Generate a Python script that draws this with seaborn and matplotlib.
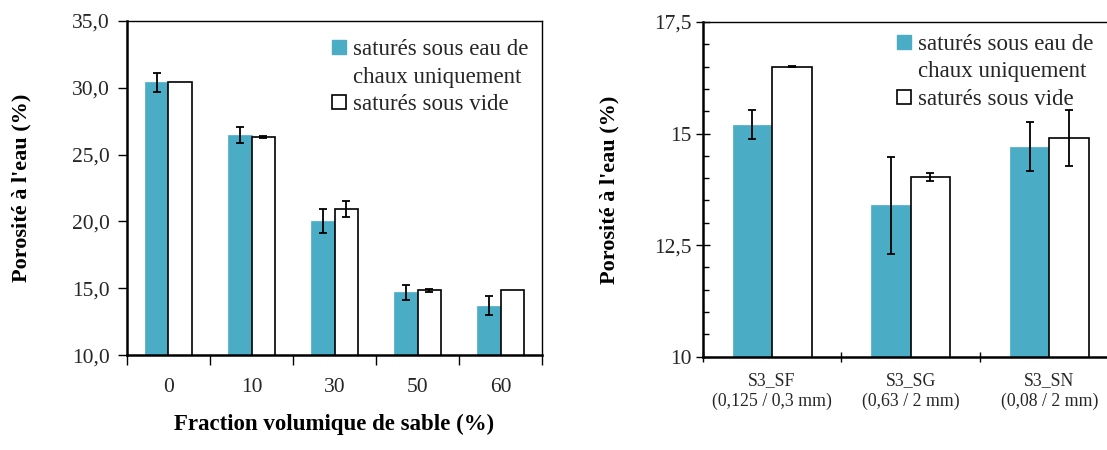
import numpy as np
import pandas as pd
import seaborn as sns
import matplotlib.pyplot as plt
from matplotlib.lines import Line2D
from matplotlib.ticker import MultipleLocator, FixedLocator

# left chart data
fractions = ['0', '10', '30', '50', '60']
chaux_l = [30.4, 26.45, 20.05, 14.7, 13.7]
chaux_l_err = [0.7, 0.6, 0.9, 0.55, 0.72]
vide_l = [30.45, 26.3, 20.95, 14.85, 14.9]
vide_l_err = [0.0, 0.08, 0.6, 0.13, 0.0]

# right chart data
sables = ['S3_SF\n(0,125 / 0,3 mm)', 'S3_SG\n(0,63 / 2 mm)', 'S3_SN\n(0,08 / 2 mm)']
chaux_r = [15.2, 13.39, 14.7]
chaux_r_err = [0.33, 1.08, 0.55]
vide_r = [16.5, 14.03, 14.9]
vide_r_err = [0.01, 0.09, 0.62]

lab_chaux = 'saturés sous eau de\nchaux uniquement'
lab_vide = 'saturés sous vide'
BLUE = '#4BACC6'
TXT = '#262626'

plt.rcParams['font.family'] = ['Liberation Serif', 'DejaVu Serif']


def make_df(cats, a, ae, b, be):
    return pd.DataFrame({
        'cat': list(cats) * 2,
        'val': list(a) + list(b),
        'err': list(ae) + list(be),
        'type': [lab_chaux] * len(cats) + [lab_vide] * len(cats),
    })


def draw(ax, df, leg_xy):
    sns.barplot(data=df, x='cat', y='val', hue='type', ax=ax,
                palette=[BLUE, 'white'], saturation=1, width=0.57,
                errorbar=None, legend=False)
    for cont, t in zip(ax.containers, [lab_chaux, lab_vide]):
        errs = df[df['type'] == t]['err'].values
        for bar, e in zip(cont, errs):
            if t == lab_vide:
                bar.set_edgecolor('black')
                bar.set_linewidth(1.2)
            else:
                bar.set_edgecolor(BLUE)
                bar.set_linewidth(0.5)
            if e > 0:
                ax.errorbar(bar.get_x() + bar.get_width() / 2, bar.get_height(),
                            yerr=e, fmt='none', ecolor='black', elinewidth=1.3,
                            capsize=3, capthick=1.3, zorder=5)
    # legend: first label split so the square sits on the first line
    l1, l2 = lab_chaux.split('\n')
    handles = [Line2D([], [], marker='s', ls='none', markersize=10,
                      markerfacecolor=BLUE, markeredgecolor=BLUE),
               Line2D([], [], ls='none'),
               Line2D([], [], marker='s', ls='none', markersize=10,
                      markerfacecolor='white', markeredgecolor='black',
                      markeredgewidth=1.2)]
    ax.legend(handles, [l1, l2, lab_vide], loc='upper right',
              bbox_to_anchor=leg_xy, frameon=False, fontsize=16.5,
              handletextpad=0.25, labelspacing=0.28, borderaxespad=0,
              borderpad=0, handlelength=0.7, labelcolor=TXT)
    ax.set_ylabel("Porosité à l'eau (%)", fontsize=16, fontweight='bold')
    ax.spines['left'].set_linewidth(1.8)
    ax.spines['bottom'].set_linewidth(1.8)
    ax.spines['top'].set_linewidth(1.0)
    ax.spines['right'].set_linewidth(1.0)
    n = len(df['cat'].unique())
    ax.set_xlim(-0.5, n - 0.5)
    ax.xaxis.set_minor_locator(FixedLocator(np.arange(-0.5, n, 1.0)))
    ax.tick_params(axis='x', which='major', length=0)
    ax.tick_params(axis='both', labelcolor=TXT)


fig = plt.figure(figsize=(11.07, 4.5), dpi=100)
ax1 = fig.add_axes([0.1147, 0.2104, 0.375, 0.7436])
ax2 = fig.add_axes([0.6348, 0.2073, 0.3758, 0.744])

draw(ax1, make_df(fractions, chaux_l, chaux_l_err, vide_l, vide_l_err), (0.966, 0.945))
ax1.set_ylim(10, 35)
ax1.yaxis.set_major_locator(MultipleLocator(5))
ax1.set_yticklabels([f'{v:.1f}'.replace('.', ',') for v in ax1.get_yticks()])
ax1.tick_params(axis='y', which='major', direction='out', length=6.5, labelsize=15.5, width=1, pad=6)
ax1.tick_params(axis='x', which='minor', direction='out', length=7, width=1)
ax1.tick_params(axis='x', which='major', labelsize=15.5, pad=16)
ax1.set_xlabel('Fraction volumique de sable (%)', fontsize=16.5, fontweight='bold')
ax1.xaxis.set_label_coords(0.5, -0.175)
ax1.yaxis.set_label_coords(-0.229, 0.5)

draw(ax2, make_df(sables, chaux_r, chaux_r_err, vide_r, vide_r_err), (0.938, 0.964))
ax2.set_ylim(10, 17.5)
ax2.yaxis.set_major_locator(MultipleLocator(2.5))
ax2.yaxis.set_minor_locator(MultipleLocator(0.5))
ax2.set_yticklabels([f'{v:g}'.replace('.', ',') for v in ax2.get_yticks()])
ax2.tick_params(axis='y', which='major', direction='inout', length=9.5, labelsize=15.5, width=1, pad=3)
ax2.tick_params(axis='y', which='minor', direction='in', length=4.5, width=1)
ax2.tick_params(axis='x', which='minor', direction='inout', length=7, width=1)
ax2.tick_params(axis='x', which='major', labelsize=12.8, pad=11)
for lbl in ax2.get_xticklabels():
    lbl.set_linespacing(1.3)
ax2.set_xlabel('')
ax2.yaxis.set_label_coords(-0.201, 0.5)

fig.savefig('out.png', dpi=100)
